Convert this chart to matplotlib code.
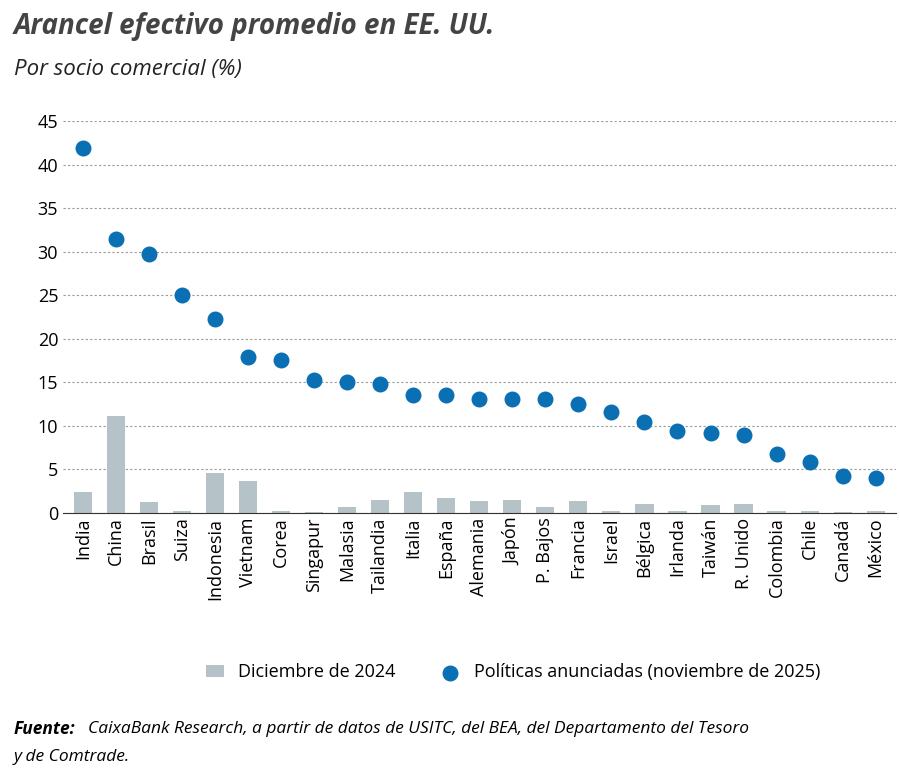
import matplotlib.pyplot as plt
import numpy as np

categories = ["India","China","Brasil","Suiza","Indonesia","Vietnam","Corea","Singapur","Malasia","Tailandia","Italia","España","Alemania","Japón","P. Bajos","Francia","Israel","Bélgica","Irlanda","Taiwán","R. Unido","Colombia","Chile","Canadá","México"]
dic2024 = [2.4,11.1,1.2,0.2,4.6,3.7,0.2,0.1,0.6,1.5,2.4,1.7,1.3,1.5,0.7,1.3,0.2,1.0,0.2,0.9,1.0,0.2,0.2,0.1,0.2]
nov2025 = [41.9,31.4,29.7,25.0,22.2,17.9,17.6,15.3,15.0,14.8,13.5,13.5,13.1,13.1,13.1,12.5,11.6,10.4,9.4,9.2,8.9,6.8,5.8,4.2,4.0]

plt.rcParams['font.family'] = ['Open Sans', 'DejaVu Sans']
fig = plt.figure(figsize=(9, 7.71), dpi=100)
ax = fig.add_axes([0.07, 0.335, 0.925, 0.508])
x = np.arange(len(categories))
b = ax.bar(x, dic2024, width=0.55, color='#b5c3c8', label='Diciembre de 2024', zorder=2)
s = ax.scatter(x, nov2025, s=110, color='#0a6fb3', label='Políticas anunciadas (noviembre de 2025)', zorder=3)
ax.set_ylim(0, 45)
ax.set_xlim(-0.6, len(categories)-0.4)
ax.set_yticks(range(0, 46, 5))
ax.yaxis.grid(True, linestyle=(0, (2, 2)), color='#999999', linewidth=0.8, zorder=0)
ax.set_xticks(x)
ax.set_xticklabels(categories, rotation=90, fontsize=13)
ax.tick_params(axis='y', labelsize=13, length=0)
ax.tick_params(axis='x', length=0)
for sp in ['top', 'right', 'left']:
    ax.spines[sp].set_visible(False)
ax.spines['bottom'].set_color('#333333')
fig.text(0.015, 0.965, "Arancel efectivo promedio en EE. UU.", fontsize=20, fontweight='bold', style='italic', color='#444444', va='center')
fig.text(0.015, 0.91, "Por socio comercial (%)", fontsize=16, style='italic', color='#222222', va='center')
fig.legend(handles=[b, s], loc='center', bbox_to_anchor=(0.57, 0.128), ncol=2, frameon=False, fontsize=13, handlelength=1.0, columnspacing=2.5)
t = fig.text(0.015, 0.055, "Fuente:", fontsize=12.5, style='italic', fontweight='bold', va='center')
fig.text(0.098, 0.055, "CaixaBank Research, a partir de datos de USITC, del BEA, del Departamento del Tesoro", fontsize=12.5, style='italic', va='center')
fig.text(0.015, 0.018, "y de Comtrade.", fontsize=12.5, style='italic', va='center')
fig.savefig('out.png')
